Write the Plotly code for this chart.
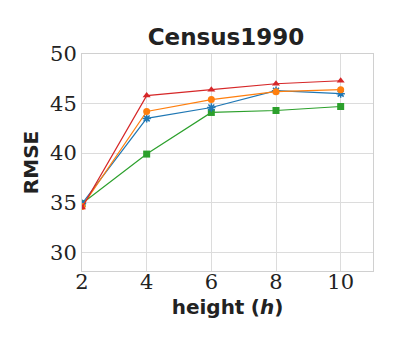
import plotly.graph_objects as go

# ----------------------------
# DATA
# ----------------------------
heights = [2, 4, 6, 8, 10]

rmse_blue = [34.9, 43.5, 44.6, 46.3, 46.0]
rmse_orange = [34.6, 44.2, 45.4, 46.2, 46.4]
rmse_green = [34.9, 39.9, 44.1, 44.3, 44.7]
rmse_red = [34.5, 45.8, 46.4, 47.0, 47.3]

y_ticks = [30, 35, 40, 45, 50]
x_ticks = [2, 4, 6, 8, 10]

series = [
    ("green", rmse_green, "#2ca02c", "square"),
    ("blue", rmse_blue, "#1f77b4", "asterisk-open"),
    ("orange", rmse_orange, "#ff7f0e", "circle"),
    ("red", rmse_red, "#d62728", "triangle-up"),
]

fig = go.Figure()

for name, vals, color, symbol in series:
    fig.add_trace(go.Scatter(
        x=heights,
        y=vals,
        mode="lines+markers",
        name=name,
        line=dict(color=color, width=1.2),
        marker=dict(symbol=symbol, size=7, color=color,
                    line=dict(color=color, width=1.5 if symbol == "asterisk-open" else 0)),
        showlegend=False,
    ))

tick_font = dict(family="DejaVu Serif", size=21, color="#222")

# page body adds an 8px offset, so margins are shifted to compensate
fig.update_layout(
    width=400,
    height=350,
    margin=dict(l=74, r=35, t=46, b=87),
    paper_bgcolor="white",
    plot_bgcolor="white",
    title=dict(
        text="<b>Census1990</b>",
        x=0.545, xanchor="center",
        y=0.917, yanchor="middle",
        font=dict(family="DejaVu Sans", size=23, color="#222"),
        automargin=False,
    ),
    xaxis=dict(
        range=[2, 11],
        tickvals=x_ticks,
        tickfont=tick_font,
        ticklabelstandoff=-8,
        showgrid=True, gridcolor="#dcdcdc", gridwidth=1,
        showline=True, linecolor="#d0d0d0", mirror=True,
        zeroline=False, ticks="", automargin=False,
        title=dict(text="<b>height</b> <b>(<i>h</i>)</b>",
                   font=dict(family="DejaVu Sans", size=20, color="#222"),
                   standoff=6),
    ),
    yaxis=dict(
        range=[28.1, 50],
        tickvals=y_ticks,
        tickfont=tick_font,
        showgrid=True, gridcolor="#dcdcdc", gridwidth=1,
        showline=True, linecolor="#d0d0d0", mirror=True,
        zeroline=False, ticks="", automargin=False,
        title=dict(text="<b>RMSE</b>",
                   font=dict(family="DejaVu Sans", size=20, color="#222"),
                   standoff=6),
    ),
)

fig.write_html("out.html")
